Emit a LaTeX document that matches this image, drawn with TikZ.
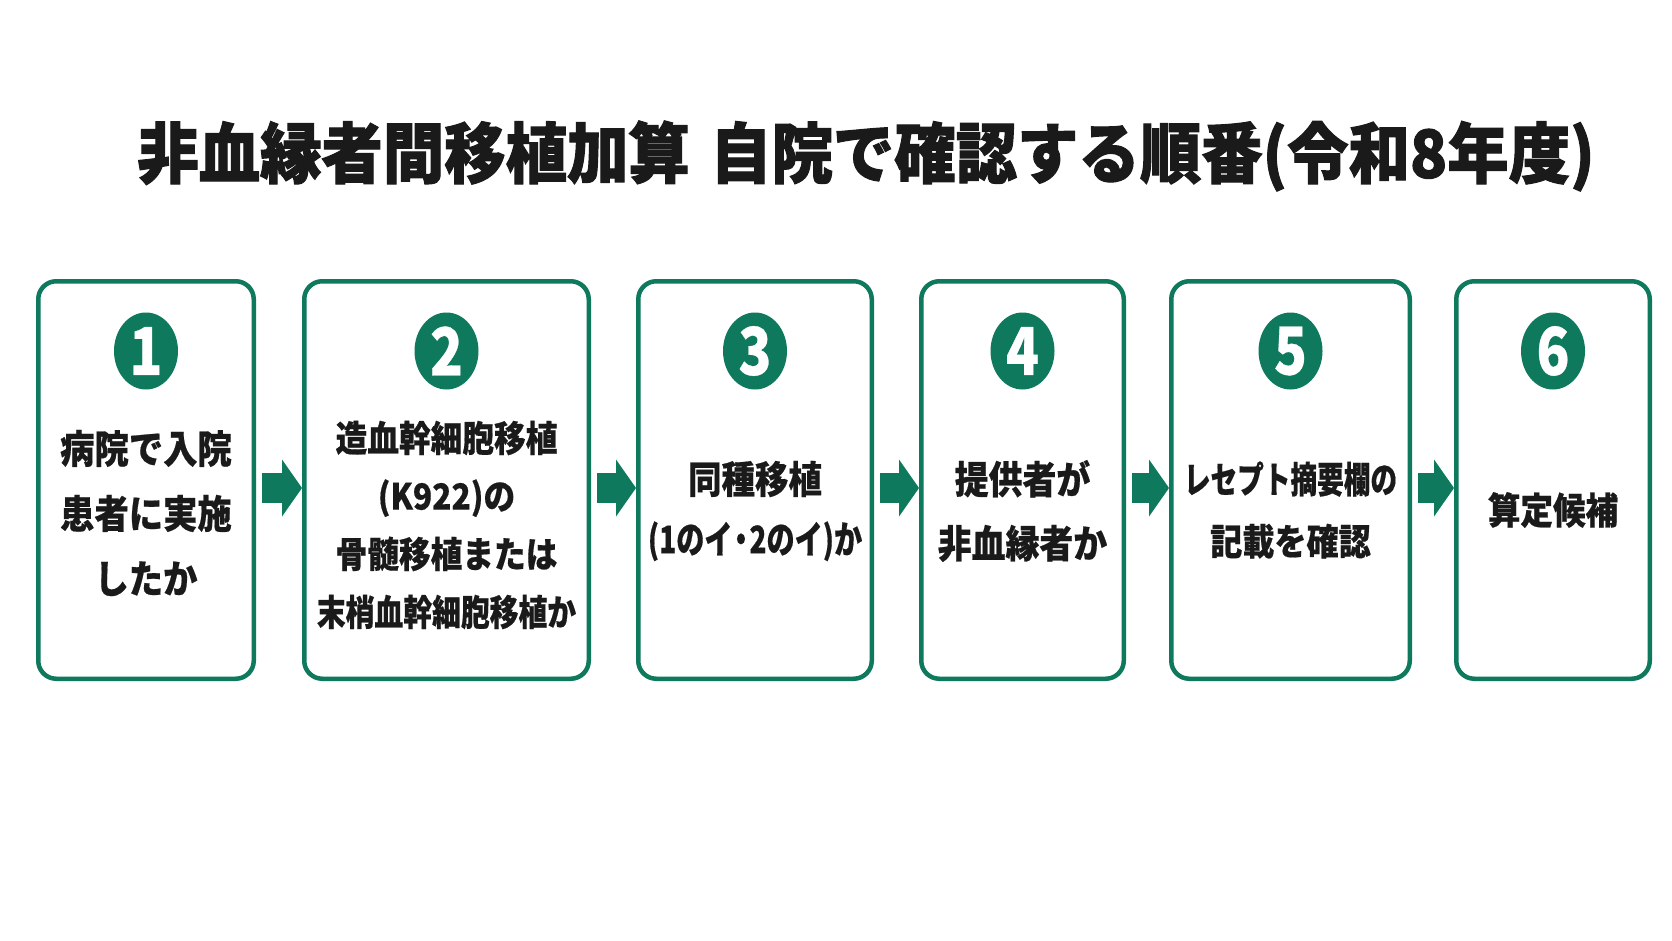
\documentclass[tikz,border=0pt]{standalone}
\usepackage{fontspec}
\usepackage{graphicx}
\newfontfamily\jp{Noto Sans CJK JP}[FakeBold=0.5]
\newfontfamily\jpt{Noto Sans CJK JP}[FakeBold=1.6]
\usetikzlibrary{shapes.geometric,arrows.meta,calc}
\definecolor{tealg}{RGB}{14,121,92}
\definecolor{inkc}{RGB}{26,26,26}
\newcommand\sx[2][0.88]{\scalebox{#1}[1]{#2}}
\begin{document}
\begin{tikzpicture}[x=1pt,y=-1pt,
  box/.style={draw=tealg, line width=4.5pt, rounded corners=18pt, fill=white,
    minimum height=397.5pt, inner sep=0pt},
  numc/.style={ellipse, fill=tealg, minimum width=64pt, minimum height=77pt,
    inner sep=0pt, text=white, font=\jp\bfseries\fontsize{66}{66}\selectfont},
  txt/.style={align=center, text=inkc, inner sep=0pt},
  flow/.style={draw=tealg, line width=30pt,
    -{Triangle[width=57pt,length=20pt,line width=0pt]}}
  ]
\fill[white] (0,0) rectangle (1672,941);
\useasboundingbox (0,0) rectangle (1672,941);

\node[txt, font=\jpt\bfseries\fontsize{66}{66}\selectfont] (title) at (866,156)
  {\sx[0.93]{非血縁者間移植加算\hspace{22pt}自院で確認する順番(令和8年度)}};

\node[box, minimum width=215.5pt] (b1) at (146,480) {};
\node[box, minimum width=284.5pt] (b2) at (446.5,480) {};
\node[box, minimum width=233.5pt] (b3) at (755,480) {};
\node[box, minimum width=202.5pt] (b4) at (1022.5,480) {};
\node[box, minimum width=238.5pt] (b5) at (1290.5,480) {};
\node[box, minimum width=193.5pt] (b6) at (1553,480) {};

\node[numc] (n1) at (146,351) {\sx[0.82]{1}};
\node[numc] (n2) at (446.5,351) {\sx[0.82]{2}};
\node[numc] (n3) at (755,351) {\sx[0.82]{3}};
\node[numc] (n4) at (1022.5,351) {\sx[0.82]{4}};
\node[numc] (n5) at (1290.5,351) {\sx[0.82]{5}};
\node[numc] (n6) at (1553,351) {\sx[0.82]{6}};

\node[txt, font=\jp\bfseries\fontsize{39}{65}\selectfont] (t1) at (146,513)
  {\sx{病院で入院}\\\sx{患者に実施}\\\sx{したか}};
\node[txt, font=\jp\bfseries\fontsize{36}{58}\selectfont] (t2) at (446.5,525)
  {\sx{造血幹細胞移植}\\\sx{(K922)の}\\\sx{骨髄移植または}\\\sx[0.8]{末梢血幹細胞移植か}};
\node[txt, font=\jp\bfseries\fontsize{38}{60}\selectfont] (t3) at (755,511)
  {\sx{同種移植}\\\sx[0.74]{(1のイ\kern-0.2em・\kern-0.2em2のイ)か}};
\node[txt, font=\jp\bfseries\fontsize{38.5}{64}\selectfont] (t4) at (1022.5,511)
  {\sx{提供者が}\\\sx{非血縁者か}};
\node[txt, font=\jp\bfseries\fontsize{36.5}{62}\selectfont] (t5) at (1290.5,510)
  {\sx[0.73]{レセプト摘要欄の}\\\sx{記載を確認}};
\node[txt, font=\jp\bfseries\fontsize{37}{37}\selectfont] (t6) at (1553,510)
  {\sx{算定候補}};

\draw[flow] ($(b1.east)+(6,8)$) -- ($(b2.west)+(0,8)$);
\draw[flow] ($(b2.east)+(6,8)$) -- ($(b3.west)+(0,8)$);
\draw[flow] ($(b3.east)+(6,8)$) -- ($(b4.west)+(0,8)$);
\draw[flow] ($(b4.east)+(6,8)$) -- ($(b5.west)+(0,8)$);
\draw[flow] ($(b5.east)+(6,8)$) -- ($(b6.west)+(0,8)$);
\end{tikzpicture}
\end{document}
